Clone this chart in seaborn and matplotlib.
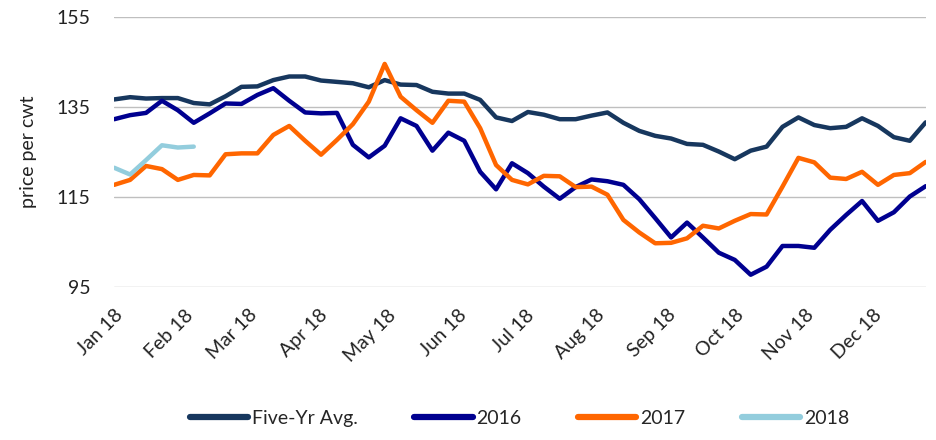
import matplotlib.pyplot as plt
import matplotlib.dates as mdates
import numpy as np
import pandas as pd
import seaborn as sns

# weekly prices, price per cwt
five_yr_avg = [136.7, 137.2, 136.9, 137.0, 137.0, 135.9, 135.6, 137.4, 139.5, 139.6,
               141.0, 141.8, 141.8, 140.9, 140.6, 140.3, 139.4, 141.0, 140.0, 139.9,
               138.4, 138.0, 138.0, 136.6, 132.7, 131.9, 133.9, 133.3, 132.3, 132.3,
               133.1, 133.8, 131.5, 129.7, 128.6, 128.0, 126.8, 126.6, 125.1, 123.4,
               125.3, 126.2, 130.6, 132.7, 131.0, 130.3, 130.6, 132.5, 130.8, 128.3,
               127.5, 131.6]
y2016 = [132.3, 133.2, 133.7, 136.4, 134.3, 131.5, 133.6, 135.8, 135.7, 137.7,
         139.2, 136.4, 133.8, 133.6, 133.7, 126.6, 123.8, 126.4, 132.5, 130.8,
         125.3, 129.3, 127.5, 120.6, 116.7, 122.5, 120.3, 117.3, 114.6, 117.2,
         118.9, 118.5, 117.7, 114.5, 110.3, 106.0, 109.3, 106.0, 102.6, 101.0,
         97.7, 99.5, 104.1, 104.1, 103.7, 107.7, 111.0, 114.1, 109.7, 111.6,
         115.1, 117.4]
y2017 = [117.7, 118.8, 121.9, 121.2, 118.8, 119.9, 119.8, 124.5, 124.7, 124.7,
         128.8, 130.8, 127.5, 124.4, 127.7, 131.2, 136.2, 144.6, 137.3, 134.3,
         131.5, 136.4, 136.2, 130.3, 122.1, 118.8, 117.8, 119.7, 119.6, 117.2,
         117.3, 115.5, 109.9, 107.1, 104.7, 104.8, 105.8, 108.6, 108.0, 109.7,
         111.2, 111.1, 117.3, 123.7, 122.7, 119.3, 119.0, 120.6, 117.7, 119.9,
         120.3, 122.8]
y2018 = [121.5, 120.0, 123.2, 126.5, 126.0, 126.2]

series_names = ["Five-Yr Avg.", "2016", "2017", "2018"]
colors = ["#17375E", "#000090", "#FF6600", "#93CDDD"]

weeks = pd.date_range("2018-01-01", periods=len(five_yr_avg), freq="7D")

frames = []
for name, vals in zip(series_names, [five_yr_avg, y2016, y2017, y2018]):
    frames.append(pd.DataFrame({"date": weeks[:len(vals)], "price": vals, "series": name}))
df = pd.concat(frames, ignore_index=True)

sns.set_style("white")
plt.rcParams["font.family"] = ["Lato", "DejaVu Sans"]

fig = plt.figure(figsize=(9.36, 4.4), dpi=100)
ax = fig.add_axes([0.122, 0.348, 0.867, 0.613])

sns.lineplot(data=df, x="date", y="price", hue="series", hue_order=series_names,
             palette=colors, linewidth=3.2, ax=ax, legend=True)

ax.set_ylim(95, 155)
ax.set_yticks([95, 115, 135, 155])
ax.set_xlim(weeks[0], weeks[-1])
ax.grid(axis="y", color="#BFBFBF", linewidth=1)
ax.set_axisbelow(True)
for s in ax.spines.values():
    s.set_visible(False)

ax.xaxis.set_major_locator(mdates.MonthLocator())
ax.xaxis.set_major_formatter(mdates.DateFormatter("%b %y"))
ax.tick_params(axis="both", length=0, labelsize=14, colors="#222222")
ax.tick_params(axis="y", pad=17)
ax.tick_params(axis="x", pad=14)
for lbl in ax.get_xticklabels():
    lbl.set_rotation(45)
    lbl.set_ha("right")
    lbl.set_va("top")
    lbl.set_rotation_mode("anchor")

ax.set_xlabel("")
ax.set_ylabel("price per cwt", fontsize=14, color="#222222", labelpad=14)

handles, labels = ax.get_legend_handles_labels()
ax.get_legend().remove()
fig.legend(handles, labels, loc="center", bbox_to_anchor=(0.555, 0.05), ncol=4,
           frameon=False, fontsize=14, handlelength=3.0, columnspacing=2.9,
           handletextpad=0.2)
for h in fig.legends[0].get_lines():
    h.set_linewidth(4.5)
    h.set_solid_capstyle("round")

fig.savefig("out.png", dpi=100)
